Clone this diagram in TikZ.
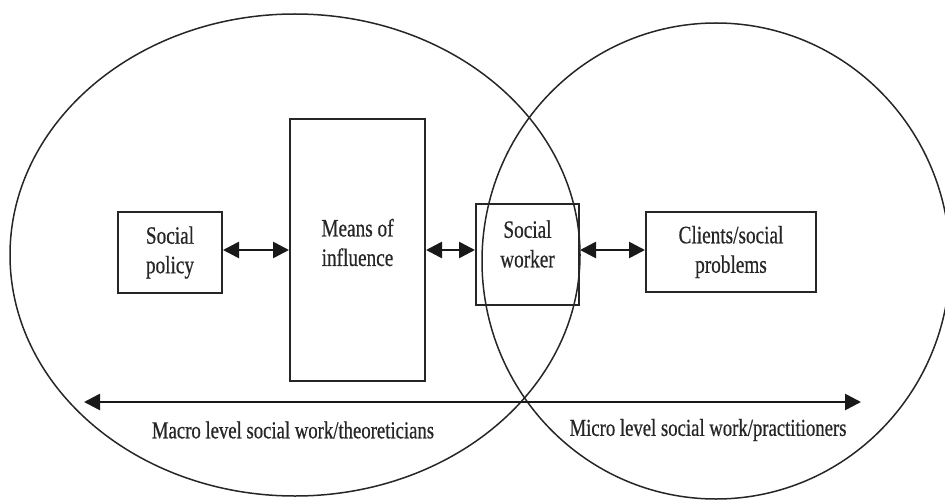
\documentclass[tikz,border=0pt]{standalone}
\usepackage{fontspec}
\setmainfont{Liberation Serif}
\newfontfamily\narrowserif[FakeStretch=0.77,FakeBold=0.6]{Liberation Serif}
\usetikzlibrary{arrows.meta}
\begin{document}
\begin{tikzpicture}[x=1pt,y=-1pt,
  boxn/.style={draw, line width=2pt, draw=black!85, inner sep=0pt},
  txt/.style={align=center, text=black!85, font=\narrowserif\fontsize{25}{29.5}\selectfont, inner sep=0pt},
  lvl/.style={text=black!85, font=\narrowserif\fontsize{24.3}{26}\selectfont, inner sep=0pt},
  link/.style={line width=2.6pt, draw=black!90, {Triangle[length=16pt,width=16pt]}-{Triangle[length=16pt,width=16pt]}},
  oval/.style={draw, line width=1.5pt, draw=black!85}]
\useasboundingbox (0,0) rectangle (945,500);
\draw[oval] (295,255) ellipse [x radius=285pt, y radius=241pt];
\draw[oval] (716,261) ellipse [x radius=234pt, y radius=238pt];
\node[boxn, txt, minimum width=104pt, minimum height=81pt] (sp) at (170,252.5) {Social\\policy};
\node[boxn, minimum width=135pt, minimum height=262pt] (means) at (357.5,250) {};
\node[txt] (meanst) at (357.5,242.5) {Means of\\influence};
\node[boxn, minimum width=103pt, minimum height=101pt] (sw) at (527.5,254.5) {};
\node[txt] (swt) at (527.5,244) {Social\\worker};
\node[boxn, txt, minimum width=170pt, minimum height=80pt] (cl) at (731,252) {Clients/social\\problems};
\draw[link] (sp.east |- means.west) -- (means.west);
\draw[link] (means.east) -- (sw.west |- means.east);
\draw[link] (sw.east |- means.east) -- (cl.west |- means.east);
\coordinate (la) at (84,402);
\coordinate (ra) at (861,402);
\draw[link] (la) -- (ra);
\node[lvl] (macro) at (293,430) {Macro level social work/theoreticians};
\node[lvl] (micro) at (708,430) {Micro level social work/practitioners};
\end{tikzpicture}
\end{document}
